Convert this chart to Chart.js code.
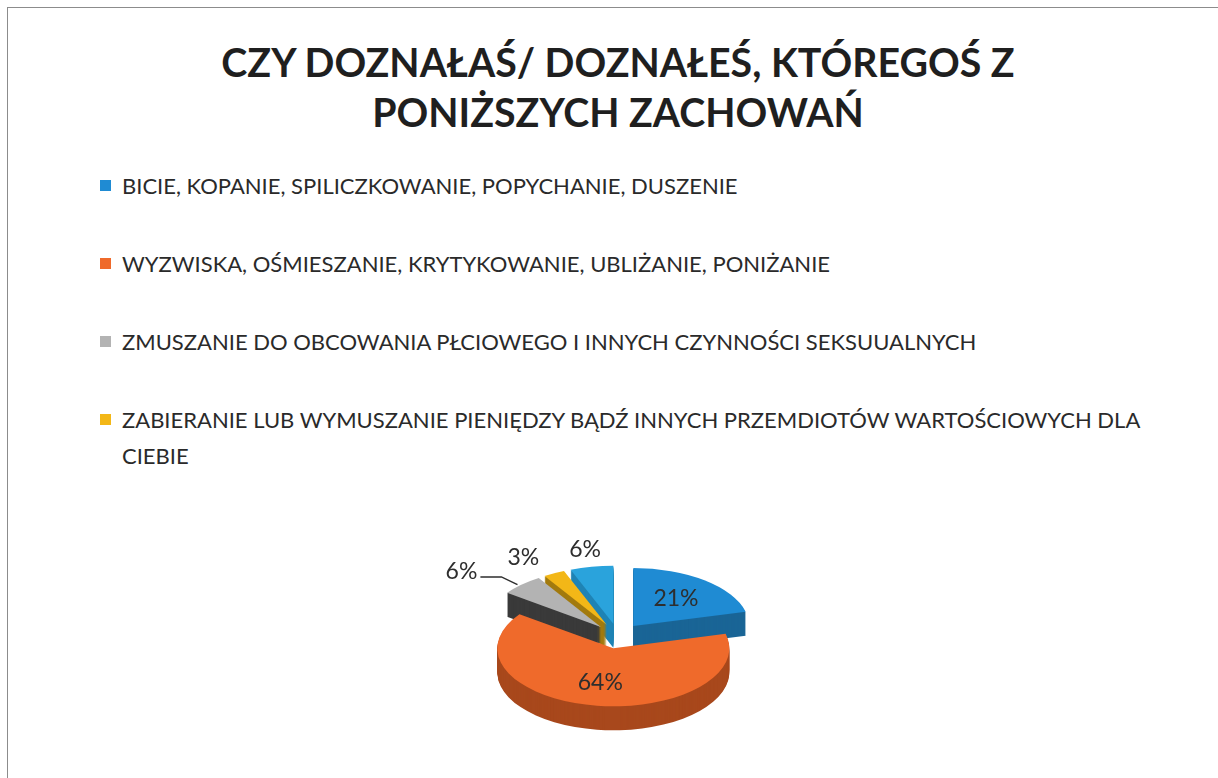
<!DOCTYPE html>
<html>
<head>
<meta charset="utf-8">
<script src="https://cdn.jsdelivr.net/npm/chart.js@4.4.0/dist/chart.umd.min.js"></script>
<style>
  html, body { margin: 0; padding: 0; background: #fff; }
  body { width: 1218px; height: 778px; position: relative; overflow: hidden; font-family: 'Lato', 'Open Sans', sans-serif; }
  #frame { position: absolute; left: 7px; top: 7px; width: 1260px; height: 820px; border-top: 1px solid #8c8c8c; border-left: 1px solid #8c8c8c; }
  #title { position: absolute; left: 0; width: 1236px; top: 37px; text-align: center; font-weight: bold; font-size: 39.3px; line-height: 50px; color: #1f1f1f; }
  #legend { position: absolute; left: 100px; top: 168px; width: 1060px; font-size: 22px; color: #2a2a2a; }
  .item { position: relative; padding-left: 22px; line-height: 36px; margin-bottom: 42px; }
  .box { position: absolute; left: 0; top: 12px; width: 11px; height: 11px; }
  #pieBox { position: absolute; left: 418px; top: 506px; width: 400px; height: 260px; }
</style>
</head>
<body>
<div id="frame"></div>
<div id="title">CZY DOZNAŁAŚ/ DOZNAŁEŚ, KTÓREGOŚ Z<br>PONIŻSZYCH ZACHOWAŃ</div>
<div id="legend"></div>
<div id="pieBox"><canvas id="chart"></canvas></div>
<script>
// Czy doznałaś/doznałeś któregoś z poniższych zachowań – 3D exploded pie

const labels = [
  'BICIE, KOPANIE, SPILICZKOWANIE, POPYCHANIE, DUSZENIE',
  'WYZWISKA, OŚMIESZANIE, KRYTYKOWANIE, UBLIŻANIE, PONIŻANIE',
  'ZMUSZANIE DO OBCOWANIA PŁCIOWEGO I INNYCH CZYNNOŚCI SEKSUUALNYCH',
  'ZABIERANIE LUB WYMUSZANIE PIENIĘDZY BĄDŹ INNYCH PRZEMDIOTÓW WARTOŚCIOWYCH DLA CIEBIE',
  ''
];
const values = [21, 64, 6, 3, 6];

const topColors  = ['#1f8bd3', '#ef6a2b', '#b3b3b3', '#f3b717', '#2aa3dc'];
const sideColors = ['#1a6596', '#a8481c', '#3a3a3a', '#a27a0e', '#1f83b4'];

const squash = 0.5;
const depth = 24;

// legend (only the named categories)
const legendEl = document.getElementById('legend');
labels.forEach((txt, i) => {
  if (!txt) return;
  const d = document.createElement('div');
  d.className = 'item';
  d.innerHTML = '<span class="box" style="background:' + topColors[i] + '"></span>' + txt;
  legendEl.appendChild(d);
});

function withSquash(ctx, cx, cy, dy) {
  ctx.translate(0, dy);
  ctx.translate(cx, cy);
  ctx.scale(1, squash);
  ctx.translate(-cx, -cy);
}

function slicePath(ctx, el) {
  const { x, y, startAngle, endAngle, outerRadius } = el;
  const mid = (startAngle + endAngle) / 2;
  const off = el.options.offset || 0;
  const ox = x + Math.cos(mid) * off, oy = y + Math.sin(mid) * off;
  ctx.beginPath();
  ctx.moveTo(ox, oy);
  ctx.arc(ox, oy, outerRadius, startAngle, endAngle);
  ctx.closePath();
}

const pie3d = {
  id: 'pie3d',
  beforeDatasetsDraw(chart) {
    const ctx = chart.ctx;
    const els = chart.getDatasetMeta(0).data;
    const cx = els[0].x, cy = els[0].y;
    const midY = el => Math.sin((el.startAngle + el.endAngle) / 2);
    const order = els.map((el, i) => i).sort((a, b) => midY(els[a]) - midY(els[b]));
    order.forEach(i => {
      const el = els[i];
      ctx.fillStyle = sideColors[i];
      for (let d = depth; d > 0; d--) {
        ctx.save();
        withSquash(ctx, cx, cy, d);
        slicePath(ctx, el);
        ctx.fill();
        ctx.restore();
      }
      ctx.save();
      withSquash(ctx, cx, cy, 0);
      slicePath(ctx, el);
      ctx.fillStyle = el.options.backgroundColor;
      ctx.fill();
      ctx.restore();
    });
    return false;
  },
  afterDraw(chart) {
    const ctx = chart.ctx;
    const els = chart.getDatasetMeta(0).data;
    const total = values.reduce((a, b) => a + b, 0);
    ctx.save();
    ctx.font = '23px Lato';
    ctx.textAlign = 'center';
    ctx.textBaseline = 'middle';
    ctx.fillStyle = '#2e2e2e';
    ctx.strokeStyle = '#2e2e2e';
    ctx.lineWidth = 1.5;
    const placed = [];
    const gap = 30;
    // place labels from the top slice going counter-clockwise
    const idx = els.map((el, i) => i).sort((a, b) => {
      const ma = (els[a].startAngle + els[a].endAngle) / 2;
      const mb = (els[b].startAngle + els[b].endAngle) / 2;
      return mb - ma;
    });
    idx.forEach(i => {
      const el = els[i];
      const cx = el.x, cy = el.y;
      const mid = (el.startAngle + el.endAngle) / 2;
      const off = el.options.offset || 0;
      const txt = values[i] + '%';
      const inside = values[i] / total > 0.1;
      const r = inside ? el.outerRadius * 0.6 + off : el.outerRadius * 1.3 + off;
      let x = cx + Math.cos(mid) * r;
      const y = cy + Math.sin(mid) * r * squash;
      if (inside) { ctx.fillText(txt, x, y); return; }
      const w = ctx.measureText(txt).width, h = 22;
      placed.forEach(p => {
        if (Math.abs(p.y - y) < h && x + w / 2 + gap > p.x - p.w / 2 && x < p.x) {
          x = p.x - p.w / 2 - gap - w / 2;
        }
      });
      placed.push({ x, y, w });
      ctx.fillText(txt, x, y);
      const ex = cx + Math.cos(mid) * (el.outerRadius + off);
      const ey = cy + Math.sin(mid) * (el.outerRadius + off) * squash;
      if (ex - (x + w / 2) > 25) {
        ctx.beginPath();
        ctx.moveTo(x + w / 2 + 3, y + 5);
        ctx.lineTo(x + w / 2 + 24, y + 5);
        ctx.lineTo(ex - 4, ey);
        ctx.stroke();
      }
    });
    ctx.restore();
  }
};

new Chart(document.getElementById('chart').getContext('2d'), {
  type: 'pie',
  data: {
    labels,
    datasets: [{
      data: values,
      backgroundColor: topColors,
      borderWidth: 0,
      offset: 25,
      radius: 116
    }]
  },
  options: {
    responsive: true,
    maintainAspectRatio: false,
    animation: false,
    events: [],
    plugins: {
      legend: { display: false },
      tooltip: { enabled: false }
    }
  },
  plugins: [pie3d]
});
</script>
</body>
</html>
